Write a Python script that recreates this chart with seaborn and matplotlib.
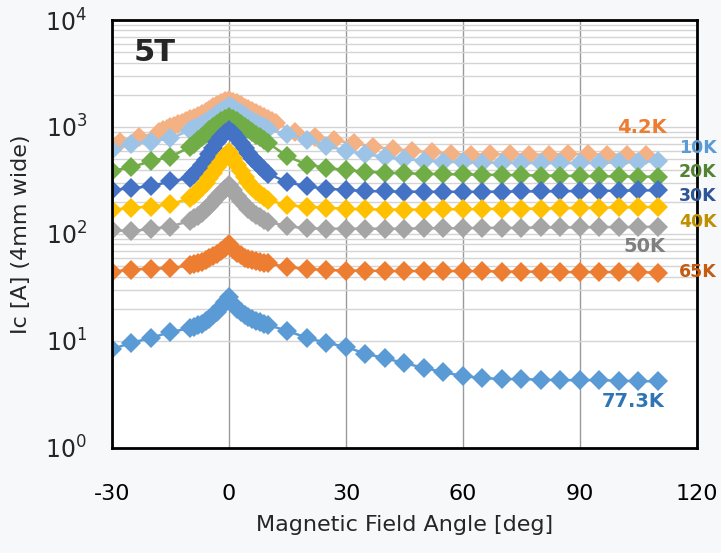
import numpy as np
import pandas as pd
import seaborn as sns
import matplotlib.pyplot as plt
from matplotlib.ticker import FixedLocator, NullFormatter

# measurement angles (deg)
ang_std = [-30, -25, -20, -15,
           -10, -9, -8, -7, -6, -5, -4, -3, -2, -1, 0, 1, 2, 3, 4, 5, 6, 7, 8, 9, 10,
           15, 20, 25, 30, 35, 40, 45, 50, 55, 60, 65, 70, 75, 80, 85, 90, 95, 100, 105, 110]
ang_42 = [-28, -23,
          -18, -17, -16, -15, -14, -13, -12, -11, -10, -9, -8, -7, -6, -5, -4, -3, -2, -1, 0,
          1, 2, 3, 4, 5, 6, 7, 8, 9, 10, 11, 12,
          17, 22, 27, 32, 37, 42, 47, 52, 57, 62, 67, 72, 77, 82, 87, 92, 97, 102, 107]

# Ic [A]
ic_42 = [730, 800,
         900, 930, 960, 990, 1020, 1060, 1100, 1140, 1180, 1220, 1270, 1320, 1380, 1450, 1530,
         1600, 1670, 1740, 1780, 1730, 1660, 1590, 1520, 1460, 1400, 1340, 1290, 1240, 1190, 1140, 1090,
         900, 810, 750, 704, 655, 620, 600, 578, 562, 552, 555, 555, 553, 552, 560, 556, 552, 550, 547]
ic_10 = [610, 700, 730, 785,
         930, 970, 1010, 1060, 1110, 1170, 1240, 1320, 1400, 1480, 1560, 1490, 1420, 1350, 1280,
         1210, 1150, 1090, 1040, 990, 950,
         860, 760, 670, 600, 555, 528, 502, 486, 475, 467, 464, 462, 460, 460, 460, 458, 462, 466, 472, 478]
ic_20 = [391, 420, 481, 527,
         650, 700, 750, 805, 865, 930, 1000, 1070, 1140, 1200, 1240, 1200, 1140, 1075, 1010, 950,
         895, 845, 800, 755, 710,
         530, 445, 415, 396, 382, 374, 369, 365, 362, 360, 358, 356, 354, 352, 350, 348, 346, 345, 344, 343]
ic_30 = [258, 268, 280, 310,
         335, 360, 395, 440, 495, 560, 635, 720, 810, 880, 930, 870, 790, 710, 635, 570,
         515, 470, 430, 395, 365,
         305, 278, 265, 258, 252, 250, 249, 248, 248, 248, 248, 249, 250, 250, 251, 252, 253, 254, 255, 256]
ic_40 = [168, 176, 180, 190,
         215, 232, 250, 272, 300, 335, 375, 420, 470, 530, 580, 510, 440, 385, 340, 305,
         275, 252, 235, 220, 208,
         185, 180, 176, 172, 170, 169, 169, 169, 170, 170, 171, 172, 172, 173, 174, 175, 176, 177, 178, 179]
ic_50 = [109, 106, 112, 117,
         133, 140, 148, 158, 170, 183, 200, 220, 242, 265, 285, 255, 225, 205, 188, 173,
         161, 151, 143, 136, 130,
         118, 113, 112, 112, 112, 112, 112, 113, 113, 113, 114, 114, 114, 115, 115, 115, 116, 116, 116, 117]
ic_65 = [44.5, 46.5, 47.5, 48,
         51, 52, 53.5, 55, 57, 59, 62, 65, 69, 74, 80, 73, 67, 63, 60, 58,
         57, 56, 55, 54, 53,
         49, 47, 46, 45.5, 45.5, 45, 45, 45, 45, 45, 45, 44.5, 44.5, 44.5, 44, 44, 44, 44, 44, 43.5]
ic_773 = [8.4, 9.6, 10.7, 12.1,
          13.2, 13.6, 14.0, 14.5, 15.2, 16.2, 17.4, 18.8, 20.6, 23.0, 25.5, 22.0, 20.0, 18.5, 17.5, 16.7,
          16.0, 15.4, 14.9, 14.5, 14.1,
          12.4, 10.7, 9.6, 8.8, 7.6, 6.9, 6.2, 5.6, 5.1, 4.7, 4.5, 4.4, 4.4, 4.35, 4.3, 4.3, 4.3, 4.25, 4.2, 4.2]

temps = ["4.2K", "10K", "20K", "30K", "40K", "50K", "65K", "77.3K"]
marker_colors = ["#F4B183", "#9DC3E6", "#70AD47", "#4472C4", "#FFC000", "#A5A5A5", "#ED7D31", "#5B9BD5"]
label_colors = ["#ED7D31", "#5B9BD5", "#548235", "#2F5597", "#BF9000", "#7F7F7F", "#C55A11", "#2E75B6"]

series = [(ang_42, ic_42), (ang_std, ic_10), (ang_std, ic_20), (ang_std, ic_30),
          (ang_std, ic_40), (ang_std, ic_50), (ang_std, ic_65), (ang_std, ic_773)]
df = pd.concat([pd.DataFrame({"angle": a, "ic": v, "temp": t})
                for t, (a, v) in zip(temps, series)], ignore_index=True)

sns.set_style("white")
plt.rcParams["font.family"] = ["DejaVu Sans"]
plt.rcParams["axes.unicode_minus"] = False

fig = plt.figure(figsize=(7.21, 5.53), dpi=100, facecolor="#f6f8fa")
ax = fig.add_axes([0.1553, 0.19, 0.8114, 0.7738])
ax.set_facecolor("white")

sns.lineplot(data=df, x="angle", y="ic", hue="temp", hue_order=temps,
             palette=marker_colors, marker="D", markersize=10.5, markeredgewidth=0,
             linewidth=1.8, estimator=None, sort=False, legend=False, ax=ax)

ax.set_yscale("log")
ax.set_xlim(-30, 120)
ax.set_ylim(1, 1e4)
ax.set_xticks([-30, 0, 30, 60, 90, 120])
ax.set_yticks([1, 10, 100, 1000, 10000])
ax.set_yticklabels([r"$\mathregular{10^{%d}}$" % e for e in range(5)])
minor = [m * 10 ** e for e in (1, 2, 3) for m in range(2, 10)]
ax.yaxis.set_minor_locator(FixedLocator(minor))
ax.yaxis.set_minor_formatter(NullFormatter())

ax.grid(axis="y", which="both", color="#d4d4d4", linewidth=1.0)
ax.grid(axis="x", which="major", color="#9a9a9a", linewidth=1.0)
ax.set_axisbelow(True)

ax.tick_params(axis="x", direction="in", length=5, width=1, pad=26, labelsize=16, colors="black")
ax.tick_params(axis="y", which="both", length=0, pad=18, labelsize=17)
for s in ax.spines.values():
    s.set_color("black")
    s.set_linewidth(2)

ax.set_xlabel("Magnetic Field Angle [deg]", fontsize=16, labelpad=8)
ax.set_ylabel("Ic [A] (4mm wide)", fontsize=16, labelpad=10)

ax.text(-24.5, 5000, "5T", fontsize=22, fontweight="bold", va="center", ha="left")

# temperature labels
lab_pos = [(112.3, 980, "right"), (115.4, 637, "left"), (115.4, 380, "left"), (115.4, 226, "left"),
           (115.4, 129, "left"), (111.8, 76, "right"), (115.4, 44, "left"), (111.8, 2.7, "right")]
for t, c, (x, y, ha) in zip(temps, label_colors, lab_pos):
    size = 14 if ha == "right" else 12.5
    ax.text(x, y, t, color=c, fontsize=size, fontweight="bold", ha=ha, va="center", clip_on=False)

fig.savefig("out.png", dpi=100, facecolor=fig.get_facecolor())
